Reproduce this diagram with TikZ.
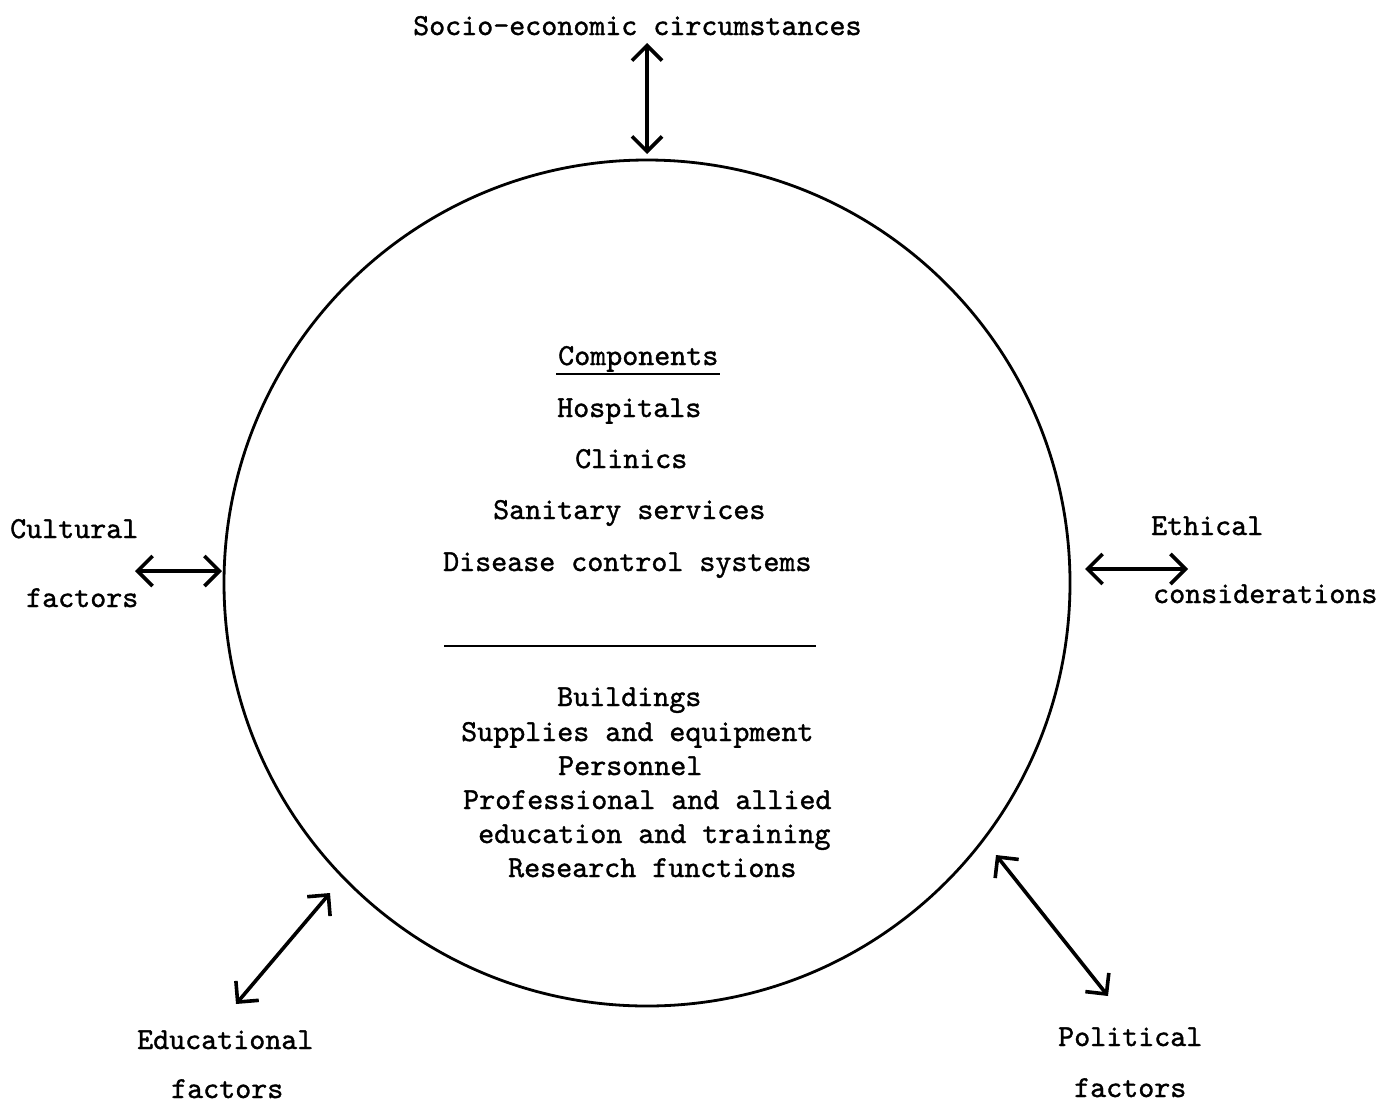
\documentclass[tikz,border=0pt]{standalone}
\usepackage{fontspec}
\newfontfamily\tw[FakeBold=1.2]{lmmono10-regular.otf}
\usetikzlibrary{arrows.meta}
\begin{document}
\begin{tikzpicture}[x=1pt,y=-1pt,
  lbl/.style={anchor=base west,inner sep=0pt,font=\tw\fontsize{30.5pt}{34pt}\selectfont},
  link/.style={line width=3.6pt,{Straight Barb[length=15pt,width=30pt,line width=3.6pt]}-{Straight Barb[length=15pt,width=30pt,line width=3.6pt]}}]
\useasboundingbox (0,0) rectangle (1380,1103);
\node[draw,circle,line width=2.8pt,minimum size=846pt,inner sep=0pt] (sys) at (647,583) {};
% outside labels
\node[lbl] (socio) at (413,35) {Socio-economic circumstances};
\node[lbl] (cult1) at (10,538) {Cultural};
\node[lbl] (cult2) at (26,607) {factors};
\node[lbl] (eth1) at (1151,535) {Ethical};
\node[lbl] (eth2) at (1153,603) {considerations};
\node[lbl] (edu1) at (137,1049) {Educational};
\node[lbl] (edu2) at (171,1098) {factors};
\node[lbl] (pol1) at (1058,1046) {Political};
\node[lbl] (pol2) at (1074,1097) {factors};
% inside labels
\node[lbl] (comp) at (558,365) {Components};
\draw[line width=1.8pt] (556,374) -- (720,374);
\node[lbl] (hosp) at (557,417) {Hospitals};
\node[lbl] (clin) at (575,468) {Clinics};
\node[lbl] (sani) at (493,519) {Sanitary services};
\node[lbl] (dis) at (443,571) {Disease control systems};
\coordinate (rl) at (444,646);
\coordinate (rr) at (816,646);
\draw[line width=2.4pt] (rl) -- (rr);
\node[lbl] (bld) at (557,706) {Buildings};
\node[lbl] (sup) at (461,741) {Supplies and equipment};
\node[lbl] (pers) at (558,775) {Personnel};
\node[lbl] (prof) at (463,809) {Professional and allied};
\node[lbl] (educ) at (478,843) {education and training};
\node[lbl] (res) at (508,877) {Research functions};
% arrow ends
\coordinate (sA) at (647,43);
\coordinate (sB) at (647,154);
\coordinate (cA) at (135,571);
\coordinate (cB) at (222,571);
\coordinate (eA) at (1085,569);
\coordinate (eB) at (1188,569);
\coordinate (dA) at (330,893);
\coordinate (dB) at (236,1004);
\coordinate (pA) at (996,855);
\coordinate (pB) at (1108,996);
\draw[link] (sA) -- (sB);
\draw[link] (cA) -- (cB);
\draw[link] (eA) -- (eB);
\draw[link] (dA) -- (dB);
\draw[link] (pA) -- (pB);
\end{tikzpicture}
\end{document}
